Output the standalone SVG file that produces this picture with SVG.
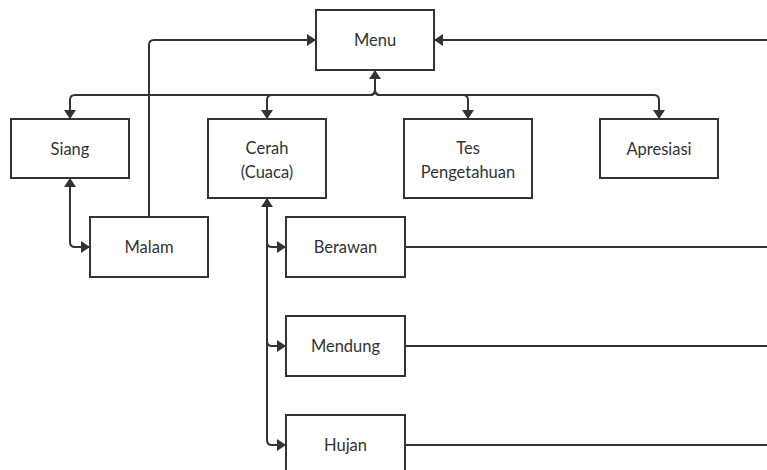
<svg xmlns="http://www.w3.org/2000/svg" width="767" height="470" viewBox="0 0 767 470">
<defs>
<marker id="arr" viewBox="0 0 9 12" refX="9" refY="6" markerWidth="9" markerHeight="12" markerUnits="userSpaceOnUse" orient="auto-start-reverse">
<path d="M0,0 L9,6 L0,12 z" fill="#333"/>
</marker>
<style>
.box{fill:#fff;stroke:#333;stroke-width:2}
.t{font-family:Lato,"Liberation Sans",sans-serif;font-size:16.5px;fill:#333;text-anchor:middle}
.c{fill:none;stroke:#333;stroke-width:2}
</style>
</defs>
<rect width="767" height="470" fill="#fff"/>
<g id="connectors">
<path class="c" d="M767,40 L434,40" marker-end="url(#arr)"/>
<path class="c" d="M149,217 L149,45 Q149,40 154,40 L316,40" marker-end="url(#arr)"/>
<path class="c" d="M375,70 L375,90 Q375,95 370,95 L75,95 Q70,95 70,100 L70,119" marker-start="url(#arr)" marker-end="url(#arr)"/>
<path class="c" d="M375,90 Q375,95 370,95 L272,95 Q267,95 267,100 L267,119" marker-end="url(#arr)"/>
<path class="c" d="M375,90 Q375,95 380,95 L463,95 Q468,95 468,100 L468,119" marker-end="url(#arr)"/>
<path class="c" d="M375,90 Q375,95 380,95 L654,95 Q659,95 659,100 L659,119" marker-end="url(#arr)"/>
<path class="c" d="M70,178 L70,242 Q70,247 75,247 L90,247" marker-start="url(#arr)" marker-end="url(#arr)"/>
<path class="c" d="M267,198 L267,242 Q267,247 272,247 L286,247" marker-start="url(#arr)" marker-end="url(#arr)"/>
<path class="c" d="M267,240 L267,341 Q267,346 272,346 L286,346" marker-end="url(#arr)"/>
<path class="c" d="M267,340 L267,440 Q267,445 272,445 L286,445" marker-end="url(#arr)"/>
<path class="c" d="M405,247 L767,247"/>
<path class="c" d="M405,346 L767,346"/>
<path class="c" d="M405,445 L767,445"/>
</g>
<g id="menu"><rect class="box" x="316" y="10" width="118" height="60"/><text class="t" x="375" y="46">Menu</text></g>
<g id="siang"><rect class="box" x="11" y="119" width="118" height="59"/><text class="t" x="70" y="155">Siang</text></g>
<g id="cerah"><rect class="box" x="208" y="119" width="118" height="79"/><text class="t" x="267" y="154">Cerah</text><text class="t" x="267" y="178">(Cuaca)</text></g>
<g id="tes"><rect class="box" x="404" y="119" width="128" height="79"/><text class="t" x="468" y="154">Tes</text><text class="t" x="468" y="178">Pengetahuan</text></g>
<g id="apresiasi"><rect class="box" x="600" y="119" width="118" height="59"/><text class="t" x="659" y="155">Apresiasi</text></g>
<g id="malam"><rect class="box" x="90" y="217" width="118" height="60"/><text class="t" x="149" y="253">Malam</text></g>
<g id="berawan"><rect class="box" x="286" y="217" width="119" height="60"/><text class="t" x="345.5" y="253">Berawan</text></g>
<g id="mendung"><rect class="box" x="286" y="316" width="119" height="60"/><text class="t" x="345.5" y="352">Mendung</text></g>
<g id="hujan"><rect class="box" x="286" y="415" width="119" height="60"/><text class="t" x="345.5" y="451">Hujan</text></g>
</svg>
